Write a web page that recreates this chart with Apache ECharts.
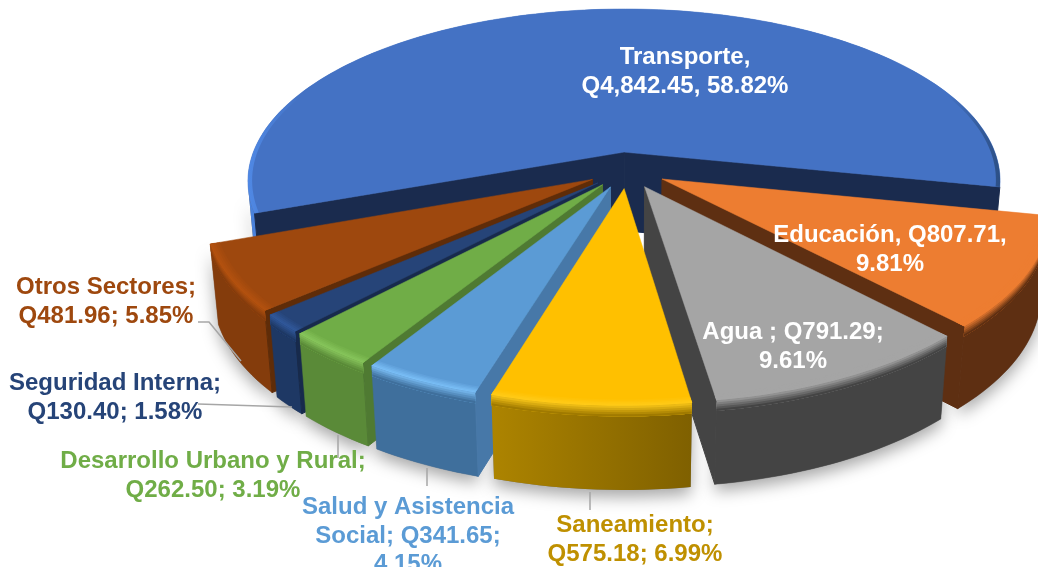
<!DOCTYPE html>
<html>
<head>
<meta charset="utf-8">
<style>
  html, body { margin: 0; padding: 0; background: #fff; }
  #chart { width: 1038px; height: 567px; }
</style>
<script src="https://cdn.jsdelivr.net/npm/echarts@6/dist/echarts.min.js"></script>
</head>
<body>
<div id="chart"></div>
<script>
// data, clockwise starting at the slice that sits on the right
const sectors = ["Educación", "Agua", "Saneamiento", "Salud y Asistencia Social", "Desarrollo Urbano y Rural", "Seguridad Interna", "Otros Sectores", "Transporte"];
const amounts = [807.71, 791.29, 575.18, 341.65, 262.50, 130.40, 481.96, 4842.45];
const labelLines = [
  ["Educación, Q807.71,", "9.81%"],
  ["Agua ; Q791.29;", "9.61%"],
  ["Saneamiento;", "Q575.18; 6.99%"],
  ["Salud y Asistencia", "Social; Q341.65;", "4.15%"],
  ["Desarrollo Urbano y Rural;", "Q262.50; 3.19%"],
  ["Seguridad Interna;", "Q130.40; 1.58%"],
  ["Otros Sectores;", "Q481.96; 5.85%"],
  ["Transporte,", "Q4,842.45, 58.82%"]
];

// styles per slice, same order as above
const topColors = ["#ED7D31", "#A5A5A5", "#FFC000", "#5B9BD5", "#70AD47", "#264478", "#9E480E", "#4472C4"];
const rimColors = ["#ED7D31", "#A5A5A5", "#FFCB1A", "#7CC0F8", "#88C65C", "#31599C", "#B5520F", "#4472C4"];
const wallColors = ["#5E2F12", "#444444", "#937000", "#3F6F9C", "#5A8A38", "#1E3864", "#843C0C", "#1A2B4E"];
const cutColors = ["#5E2F12", "#444444", "#7F6000", "#4778A8", "#4F7A32", "#172A4C", "#5F2C08", "#1A2B4E"];
const labelColors = ["#fff", "#fff", "#BF9000", "#5B9BD5", "#70AD47", "#264478", "#9E480E", "#fff"];
const labelPos = [[890, 250], [793, 347], [635, 540], [408, 536], [213, 476], [115, 398], [106, 302], [685, 72]];
const leaderLines = [
  [[198, 322], [209, 322], [241, 361]],
  [[198, 404], [292, 407]],
  [[338, 435], [338, 458]],
  [[427, 468], [427, 486]],
  [[590, 492], [590, 510]]
];

// 3d pie setup
const startAngle = 101.6;
const radius = 370;
const explode = 39;
const depth = 79;
const cx = 627, cy = 170;
const xScale = 1.02, tilt = 0.468, persp = 0.000461;

const total = amounts.reduce((a, b) => a + b, 0);
const toRad = Math.PI / 180;

function project(X, V) {
  const k = 1 / (1 - persp * V);
  return { x: cx + X * xScale * k, y: cy + V * tilt * k, k: k };
}

function lower(p, dy) {
  // point dy px down the wall, x pulls in a little toward the centre
  const f = dy / depth;
  return [cx + (p.x - cx) * (1 - 0.02 * f), p.y + dy * Math.pow(p.k, 0.3)];
}

function mix(a, b, t) {
  const pa = parseInt(a.slice(1), 16), pb = parseInt(b.slice(1), 16);
  const ch = (s) => Math.round(((pa >> s) & 255) * (1 - t) + ((pb >> s) & 255) * t);
  return "rgb(" + ch(16) + "," + ch(8) + "," + ch(0) + ")";
}

function area(pts) {
  let s = 0;
  for (let i = 0; i < pts.length; i++) {
    const a = pts[i], b = pts[(i + 1) % pts.length];
    s += a[0] * b[1] - b[0] * a[1];
  }
  return s / 2;
}

function sliceGeom(a0, a1) {
  const mid = (a0 + a1) / 2 * toRad;
  const ox = explode * Math.sin(mid), ov = -explode * Math.cos(mid);
  const point = (deg, r) => project(ox + r * Math.sin(deg * toRad), ov - r * Math.cos(deg * toRad));
  const steps = Math.max(6, Math.ceil((a1 - a0) / 1.5));
  const arc = (r) => {
    const pts = [];
    for (let s = 0; s <= steps; s++) pts.push(point(a0 + (a1 - a0) * s / steps, r));
    return pts;
  };
  return { apex: project(ox, ov), arc: arc };
}

// parts of the outer arc that face the viewer
function frontRuns(rim) {
  const runs = [];
  let cur = null;
  for (let i = 0; i < rim.length - 1; i++) {
    const a = rim[i], b = rim[i + 1];
    const quad = [[a.x, a.y], [b.x, b.y], lower(b, depth), lower(a, depth)];
    if (area(quad) < 0) {
      if (!cur) { cur = [a]; runs.push(cur); }
      cur.push(b);
    } else cur = null;
  }
  return runs;
}

function poly(points, style) {
  return { type: "polygon", shape: { points: points }, style: style };
}

function xy(p) { return [p.x, p.y]; }

function bandPoints(run, d0, d1) {
  return run.map((p) => lower(p, d0)).concat(run.slice().reverse().map((p) => lower(p, d1)));
}

function sliceAngles() {
  let a = startAngle;
  return amounts.map((v) => {
    const a0 = a;
    a += v / total * 360;
    return [a0, a];
  });
}

const angles = sliceAngles();

// back to front, the far slices get painted first
const drawOrder = amounts.map((_, i) => i).sort((p, q) => {
  const m = (i) => (angles[i][0] + angles[i][1]) / 2 * toRad;
  return Math.cos(m(q)) - Math.cos(m(p));
});
const rows = drawOrder.map((i) => [amounts[i], angles[i][0], angles[i][1], i]);

function renderShadow(params, api) {
  const g = sliceGeom(api.value(1), api.value(2));
  const rim = g.arc(radius);
  const children = frontRuns(rim).map((run) => poly(bandPoints(run, 0, depth), {
    fill: "#777",
    shadowBlur: 16,
    shadowColor: "rgba(0,0,0,0.35)",
    shadowOffsetY: 7
  }));
  return { type: "group", children: children };
}

function renderSlice(params, api) {
  const i = api.value(3);
  const g = sliceGeom(api.value(1), api.value(2));
  const rim = g.arc(radius);
  const children = [];
  const topColor = topColors[i], rimColor = rimColors[i], wallColor = wallColors[i], cutColor = cutColors[i];

  // outer wall
  const runs = frontRuns(rim);
  runs.forEach((run) => {
    let wallFill = wallColor;
    if (i === 2) {
      wallFill = new echarts.graphic.LinearGradient(0, 0, 1, 0, [
        { offset: 0, color: "#AD8400" }, { offset: 1, color: "#7F6000" }
      ]);
    }
    // the big slice catches the light on its left side only
    if (i === 7 && run[0].x < cx) wallFill = "#4A82DC";
    children.push(poly(bandPoints(run, 0, depth), { fill: wallFill, stroke: wallFill === wallColor ? wallColor : null, lineWidth: 0.5 }));
  });

  // flat cut faces at both ends of the slice
  [rim[0], rim[rim.length - 1]].forEach((end, n) => {
    const quad = [xy(g.apex), xy(end), lower(end, depth), lower(g.apex, depth)];
    const visible = n === 0 ? area(quad) < 0 : area(quad) > 0;
    if (visible) children.push(poly(quad, { fill: cutColor, stroke: cutColor, lineWidth: 1 }));
  });

  // top face
  const top = [xy(g.apex)].concat(rim.map(xy));
  children.push(poly(top, { fill: topColor, stroke: topColor, lineWidth: 0.5 }));

  // soft bevel along the rim
  if (i === 7) {
    const inner = g.arc(radius - 4);
    children.push(poly(rim.map(xy).concat(inner.slice().reverse().map(xy)), {
      fill: new echarts.graphic.LinearGradient(0, 0, 1, 0, [
        { offset: 0, color: "#4F88E4" },
        { offset: 0.07, color: "#4472C4" },
        { offset: 0.93, color: "#4472C4" },
        { offset: 1, color: "#2C4F85" }
      ])
    }));
  } else {
    const bevel = [9, 7, 5, 3, 1];
    bevel.forEach((d, n) => {
      const inner = g.arc(radius - d);
      children.push(poly(rim.map(xy).concat(inner.slice().reverse().map(xy)), {
        fill: mix(topColor, rimColor, (n + 1) / bevel.length)
      }));
    });
    const fade = 10;
    runs.forEach((run) => {
      for (let d = 0; d < fade; d += 2) {
        children.push(poly(bandPoints(run, d, fade), {
          fill: mix(rimColor, i === 2 ? "#A07A00" : wallColor, (d + 2) / fade)
        }));
      }
    });
  }
  return { type: "group", children: children };
}

const labels = labelLines.map((lines, i) => ({
  type: "text",
  z: 20,
  silent: true,
  style: {
    x: labelPos[i][0],
    y: labelPos[i][1],
    text: lines.join("\n"),
    fill: labelColors[i],
    font: 'bold 24px "Liberation Sans", Arial, sans-serif',
    lineHeight: 28.5,
    textAlign: "center",
    textVerticalAlign: "middle"
  }
}));

const leaders = leaderLines.map((pts) => ({
  type: "polyline",
  z: 15,
  silent: true,
  shape: { points: pts },
  style: { stroke: "#A6A6A6", lineWidth: 1.5, fill: null }
}));

const chart = echarts.init(document.getElementById("chart"), null, { renderer: "canvas" });
chart.setOption({
  animation: false,
  backgroundColor: "#fff",
  tooltip: { show: false },
  series: [
    { name: "sombra", type: "custom", coordinateSystem: "none", silent: true, z: 1, renderItem: renderShadow, data: rows },
    { name: "Sectores", type: "custom", coordinateSystem: "none", silent: true, z: 2, renderItem: renderSlice, data: rows }
  ],
  graphic: { elements: leaders.concat(labels) }
});
</script>
</body>
</html>
